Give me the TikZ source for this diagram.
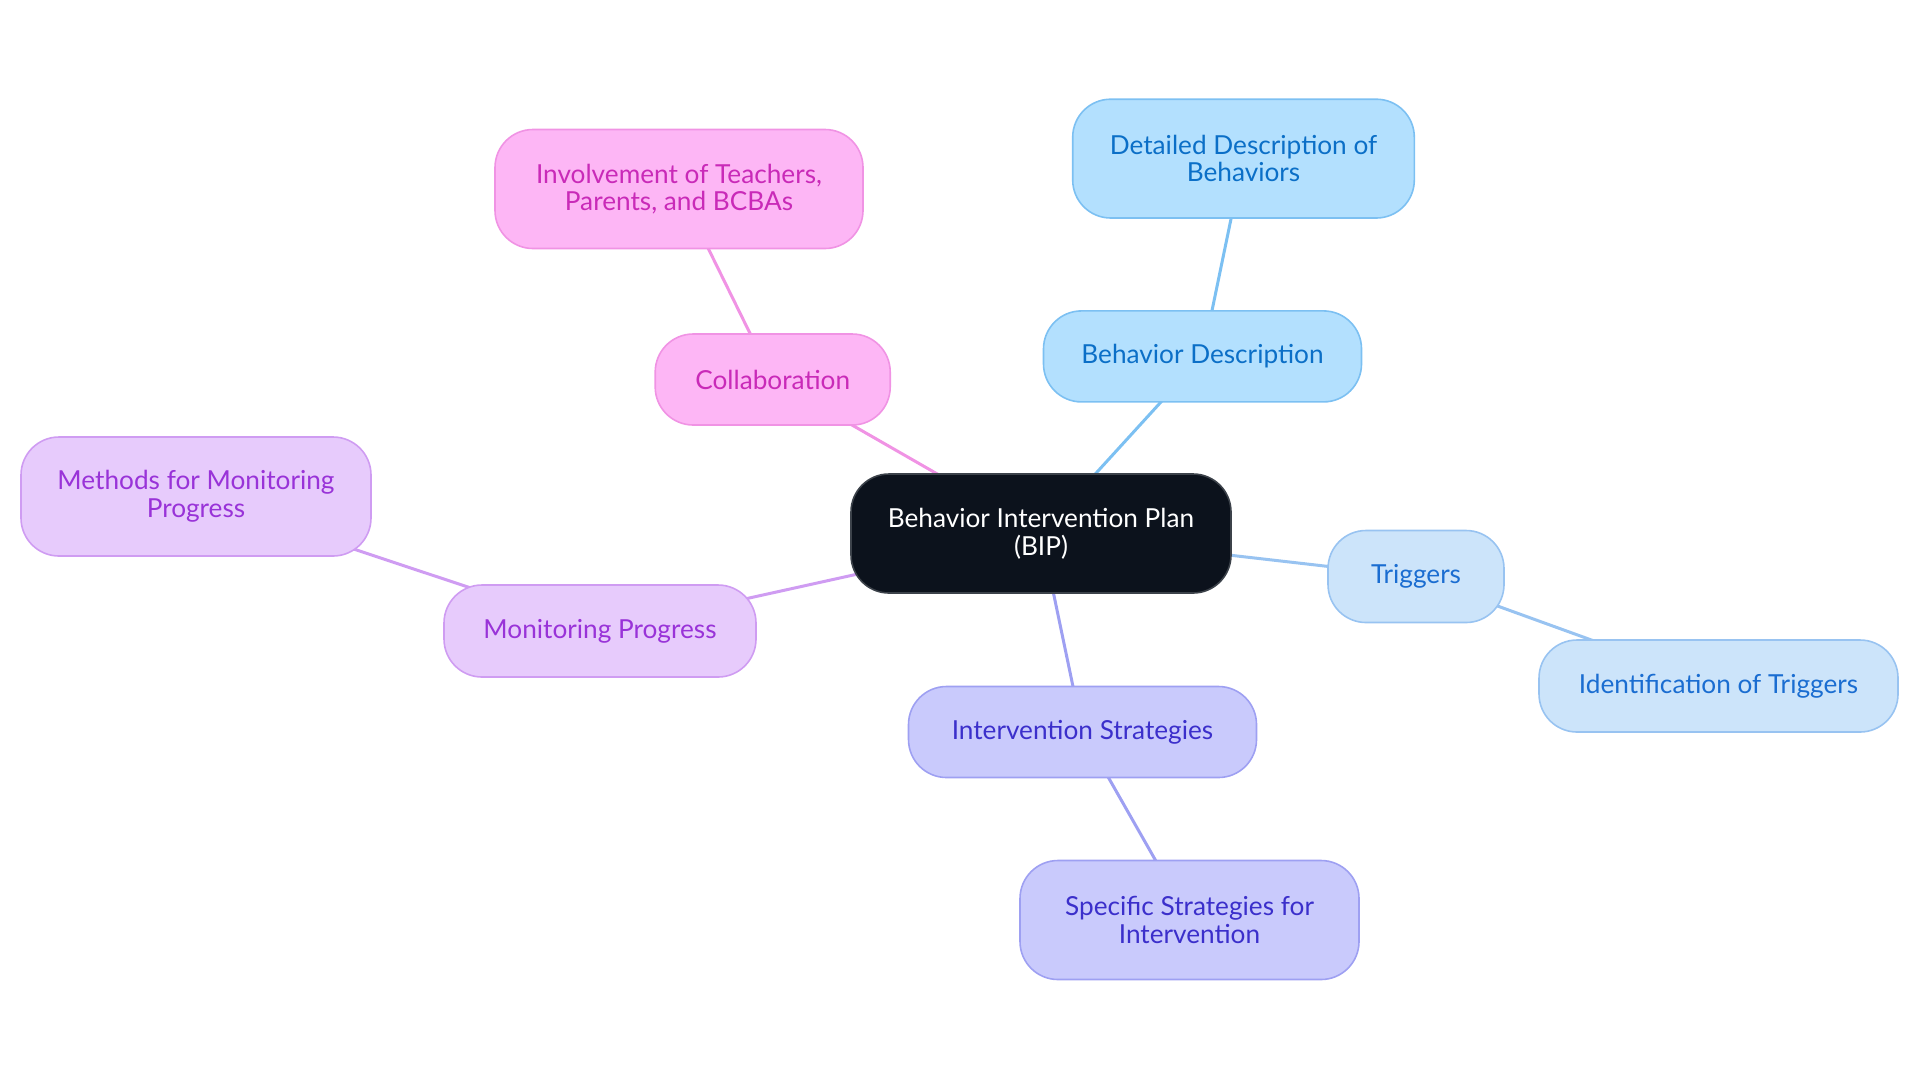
\documentclass[tikz,border=0pt]{standalone}
\usepackage{fontspec}
\setmainfont{Lato}
\usetikzlibrary{backgrounds}
\definecolor{bdfill}{HTML}{B3E0FE}\definecolor{bddraw}{HTML}{7CC0F2}\definecolor{bdtext}{HTML}{0B6FC7}
\definecolor{trfill}{HTML}{CCE4FA}\definecolor{trdraw}{HTML}{98C3F1}\definecolor{trtext}{HTML}{1A6DD1}
\definecolor{infill}{HTML}{C9CAFC}\definecolor{indraw}{HTML}{9EA0F2}\definecolor{intext}{HTML}{3B2FCB}
\definecolor{mofill}{HTML}{E7CBFC}\definecolor{modraw}{HTML}{CF9CF2}\definecolor{motext}{HTML}{9933D8}
\definecolor{cofill}{HTML}{FDB6F5}\definecolor{codraw}{HTML}{F093E4}\definecolor{cotext}{HTML}{C92AB8}
\definecolor{ctfill}{HTML}{0C121C}\definecolor{ctdraw}{HTML}{3C424A}
\tikzset{
  box/.style={draw, line width=0.8pt, rounded corners=19pt, align=center, inner sep=0pt,
    font=\fontsize{13.1pt}{13.8pt}\selectfont},
  bd/.style={box, fill=bdfill, draw=bddraw, text=bdtext},
  tr/.style={box, fill=trfill, draw=trdraw, text=trtext},
  iv/.style={box, fill=infill, draw=indraw, text=intext},
  mo/.style={box, fill=mofill, draw=modraw, text=motext},
  co/.style={box, fill=cofill, draw=codraw, text=cotext},
  ct/.style={box, fill=ctfill, draw=ctdraw, text=white},
  link/.style={line width=1.5pt},
}
\begin{document}
\begin{tikzpicture}[x=0.5pt,y=-0.5pt]
\useasboundingbox (0,0) rectangle (1920,1083);
\node[ct, minimum width=190pt, minimum height=59.5pt] (bip) at (1041,533.5) {Behavior Intervention Plan\\(BIP)};
\node[bd, minimum width=159pt, minimum height=45.5pt] (bd) at (1202.5,356.4) {Behavior Description};
\node[bd, minimum width=170.8pt, minimum height=59.4pt] (dd) at (1243.5,158.6) {Detailed Description of\\Behaviors};
\node[tr, minimum width=88pt, minimum height=46pt] (tr) at (1416,576.5) {Triggers};
\node[tr, minimum width=179.5pt, minimum height=46pt] (it) at (1718.5,686) {Identification of Triggers};
\node[iv, minimum width=174pt, minimum height=45.5pt] (is) at (1082.5,732) {Intervention Strategies};
\node[iv, minimum width=169.5pt, minimum height=59.5pt] (ss) at (1189.5,920) {Specific Strategies for\\Intervention};
\node[mo, minimum width=156pt, minimum height=46pt] (mp) at (600,631) {Monitoring Progress};
\node[mo, minimum width=175pt, minimum height=59.5pt] (mm) at (196,496.5) {Methods for Monitoring\\Progress};
\node[co, minimum width=117.5pt, minimum height=45.5pt] (cb) at (772.7,379.5) {Collaboration};
\node[co, minimum width=184pt, minimum height=59.5pt] (iv) at (679,189) {Involvement of Teachers,\\Parents, and BCBAs};
\begin{pgfonlayer}{background}
\draw[link, bddraw] (bip.center) -- (bd.center);
\draw[link, bddraw] (bd.center) -- (dd.center);
\draw[link, trdraw] (bip.center) -- (tr.center);
\draw[link, trdraw] (tr.center) -- (it.center);
\draw[link, indraw] (bip.center) -- (is.center);
\draw[link, indraw] (is.center) -- (ss.center);
\draw[link, modraw] (bip.center) -- (mp.center);
\draw[link, modraw] (mp.center) -- (mm.center);
\draw[link, codraw] (bip.center) -- (cb.center);
\draw[link, codraw] (cb.center) -- (iv.center);
\end{pgfonlayer}
\end{tikzpicture}
\end{document}
